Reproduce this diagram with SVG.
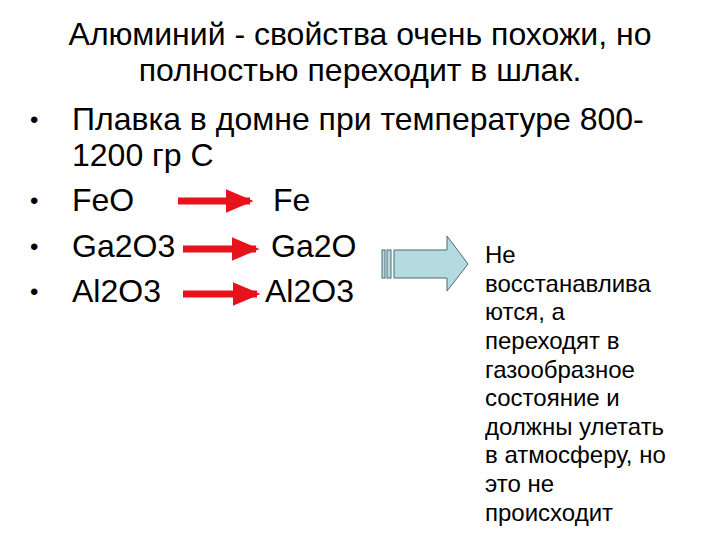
<svg xmlns="http://www.w3.org/2000/svg" width="720" height="540" viewBox="0 0 720 540">
<style>
.t{font-family:"Liberation Sans",Arial,sans-serif;font-size:32px;fill:#000}
.b{font-family:"Liberation Sans",Arial,sans-serif;font-size:24px;fill:#000}
.s{font-family:"Liberation Sans",Arial,sans-serif;font-size:24px;fill:#000}
.r{stroke:#e8121b;stroke-width:7;fill:none}
</style>
<defs><marker id="h" markerWidth="4" markerHeight="4" refX="3.5" refY="2" orient="auto" markerUnits="strokeWidth"><path d="M0,0.3 L4,2 L0,3.7 Z" fill="#e8121b"/></marker></defs>
<rect width="720" height="540" fill="#fff"/>
<g id="title">
<text class="t" x="360" y="45" text-anchor="middle">Алюминий - свойства очень похожи, но</text>
<text class="t" x="360" y="81" text-anchor="middle">полностью переходит в шлак.</text>
</g>
<g id="bullets">
<text class="b" x="30" y="128">•</text><text class="t" x="72" y="130">Плавка в домне при температуре 800-</text>
<text class="t" x="72" y="166">1200 гр С</text>
<text class="b" x="30" y="209">•</text><text class="t" x="72" y="211">FeO</text><text class="t" x="273" y="211">Fe</text>
<text class="b" x="30" y="255">•</text><text class="t" x="72" y="257">Ga2O3</text><text class="t" x="271" y="257">Ga2O</text>
<text class="b" x="30" y="300">•</text><text class="t" x="72" y="302">Al2O3</text><text class="t" x="265" y="302">Al2O3</text>
</g>
<g id="connectors">
<line class="r" x1="178" y1="201" x2="250" y2="201" marker-end="url(#h)"/>
<line class="r" x1="183" y1="249" x2="256" y2="249" marker-end="url(#h)"/>
<line class="r" x1="183" y1="294" x2="257" y2="294" marker-end="url(#h)"/>
</g>
<g id="blockarrow" fill="#b4dbe0" stroke="#4a6a70" stroke-width="1">
<rect x="382" y="250" width="3" height="28"/>
<rect x="387" y="250" width="4" height="28"/>
<path d="M394,250 H447 V236 L468,264 L447,291 V278 H394 Z"/>
</g>
<g id="note">
<text class="s" x="485" y="263">Не</text>
<text class="s" x="485" y="292">восстанавлива</text>
<text class="s" x="485" y="320">ются, а</text>
<text class="s" x="485" y="349">переходят в</text>
<text class="s" x="485" y="378">газообразное</text>
<text class="s" x="485" y="406">состояние и</text>
<text class="s" x="485" y="435">должны улетать</text>
<text class="s" x="485" y="463">в атмосферу, но</text>
<text class="s" x="485" y="492">это не</text>
<text class="s" x="485" y="521">происходит</text>
</g>
</svg>
